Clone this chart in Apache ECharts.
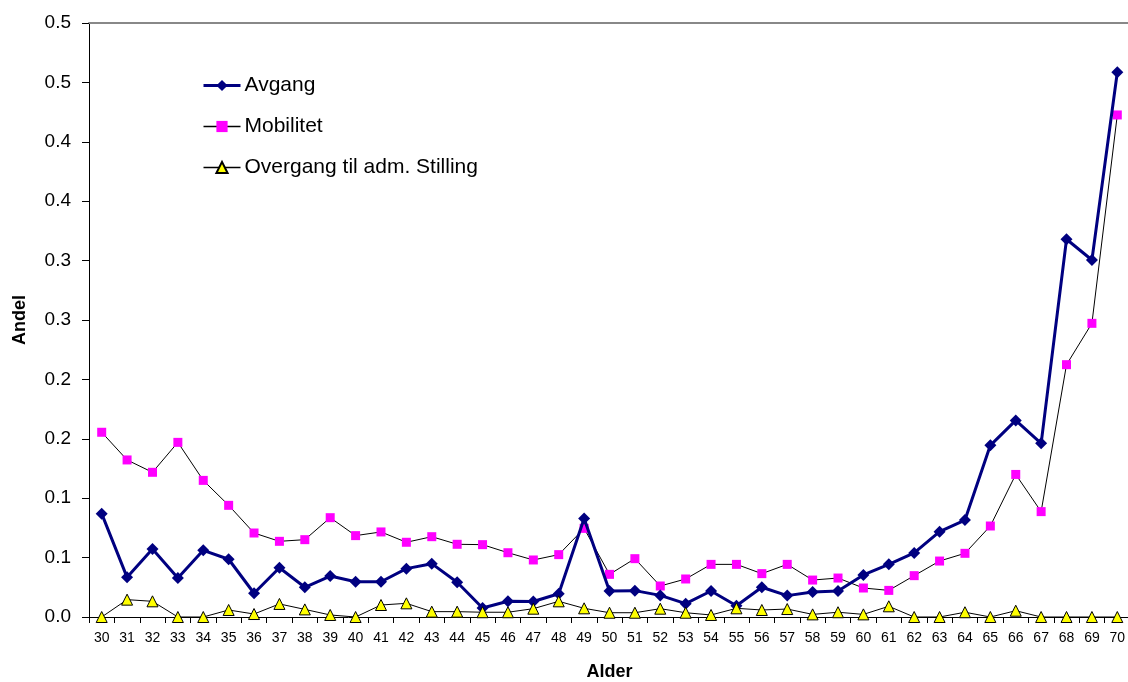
<!DOCTYPE html>
<html>
<head>
<meta charset="utf-8">
<script src="https://cdn.jsdelivr.net/npm/echarts@6/dist/echarts.min.js"></script>
<style>
  html, body { margin: 0; padding: 0; background: #fff; }
  #chart { width: 1128px; height: 682px; }
</style>
</head>
<body>
<div id="chart"></div>
<script>
const ages = ['30','31','32','33','34','35','36','37','38','39','40','41','42','43','44','45','46','47','48','49',
  '50','51','52','53','54','55','56','57','58','59','60','61','62','63','64','65','66','67','68','69','70']

const avgang = [0.087, 0.0334, 0.0572, 0.0328, 0.0561, 0.0486, 0.020, 0.0415, 0.025, 0.0345,
  0.0297, 0.0297, 0.0407, 0.0449, 0.0292, 0.0076, 0.0132, 0.013, 0.0196, 0.083,
  0.0219, 0.0222, 0.0182, 0.0112, 0.0219, 0.0095, 0.025, 0.018, 0.021, 0.0219,
  0.0354, 0.0443, 0.0539, 0.0718, 0.0816, 0.1445, 0.1655, 0.1462, 0.318, 0.3005, 0.4585]

const mobilitet = [0.1555, 0.1322, 0.1218, 0.147, 0.115, 0.094, 0.0707, 0.0637, 0.0651, 0.0836,
  0.0685, 0.0716, 0.0629, 0.0676, 0.0612, 0.0609, 0.0541, 0.048, 0.0525, 0.0746,
  0.0359, 0.0491, 0.0261, 0.032, 0.0443, 0.0443, 0.0365, 0.0443, 0.0311, 0.0328,
  0.0244, 0.0224, 0.0348, 0.0471, 0.0536, 0.0766, 0.120, 0.0887, 0.2124, 0.2472, 0.4226]

const overgang = [0, 0.0146, 0.0132, 0, 0, 0.0059, 0.0025, 0.011, 0.0064, 0.0017,
  0, 0.0101, 0.0115, 0.0045, 0.0045, 0.004, 0.004, 0.007, 0.0132, 0.0073,
  0.0036, 0.0036, 0.007, 0.0036, 0.0017, 0.0073, 0.0059, 0.0067, 0.0022, 0.004,
  0.0022, 0.009, 0, 0, 0.004, 0, 0.0053, 0, 0, 0, 0]

// Excel-style rounded labels for the 0.05 steps
const yTickLabels = ['0.0','0.1','0.1','0.2','0.2','0.3','0.3','0.4','0.4','0.5','0.5']

const font = 'Liberation Sans, Arial, sans-serif'
const chart = echarts.init(document.getElementById('chart'))

const option = {
  animation: false,
  textStyle: { fontFamily: font },
  grid: { left: 89, right: -2, top: 23, bottom: 65, outerBoundsMode: 'none', containLabel: false },
  legend: {
    orient: 'vertical',
    left: 197,
    top: 70,
    itemWidth: 37,
    itemHeight: 14,
    itemGap: 20,
    textStyle: { fontFamily: font, fontSize: 21, color: '#000', padding: [0, 0, 0, -1] },
    data: [
      { name: 'Avgang', lineStyle: { width: 3, color: '#000080' } },
      { name: 'Mobilitet', lineStyle: { width: 1.5, color: '#000' } },
      { name: 'Overgang til adm. Stilling', lineStyle: { width: 1.5, color: '#000' } }
    ]
  },
  xAxis: [{
    type: 'category',
    data: ages,
    boundaryGap: true,
    name: 'Alder',
    nameLocation: 'middle',
    nameGap: 46,
    nameTextStyle: { fontFamily: font, fontSize: 18, fontWeight: 'bold', color: '#000' },
    axisLine: { lineStyle: { color: '#000', width: 1 } },
    axisTick: { show: true, alignWithLabel: false, length: 6, lineStyle: { color: '#000' } },
    axisLabel: { interval: 0, fontSize: 14, color: '#000', margin: 14 },
    splitLine: { show: false }
  }, {
    type: 'category',
    data: ages,
    position: 'top',
    axisLine: { lineStyle: { color: '#888', width: 2 } },
    axisTick: { show: false },
    axisLabel: { show: false },
    splitLine: { show: false }
  }],
  yAxis: {
    type: 'value',
    min: 0,
    max: 0.5,
    interval: 0.05,
    name: 'Andel',
    nameLocation: 'middle',
    nameGap: 60,
    nameTextStyle: { fontFamily: font, fontSize: 18, fontWeight: 'bold', color: '#000' },
    axisLine: { show: true, lineStyle: { color: '#000', width: 1 } },
    axisTick: { show: true, length: 7, lineStyle: { color: '#000' } },
    axisLabel: {
      fontSize: 19, color: '#000', margin: 18,
      formatter: (v, i) => yTickLabels[i]
    },
    splitLine: { show: false }
  },
  series: [
    {
      name: 'Avgang',
      type: 'line',
      data: avgang,
      symbol: 'diamond',
      symbolSize: 12,
      lineStyle: { color: '#000080', width: 3 },
      itemStyle: { color: '#000080' },
      z: 3
    },
    {
      name: 'Mobilitet',
      type: 'line',
      data: mobilitet,
      symbol: 'rect',
      symbolSize: 9,
      lineStyle: { color: '#000', width: 1 },
      itemStyle: { color: '#ff00ff', borderWidth: 0 },
      z: 2
    },
    {
      name: 'Overgang til adm. Stilling',
      type: 'line',
      data: overgang,
      symbol: 'triangle',
      symbolSize: 11,
      lineStyle: { color: '#000', width: 1 },
      itemStyle: { color: '#ffff00', borderColor: '#000', borderWidth: 1 },
      z: 4
    }
  ]
}
chart.setOption(option)
</script>
</body>
</html>
